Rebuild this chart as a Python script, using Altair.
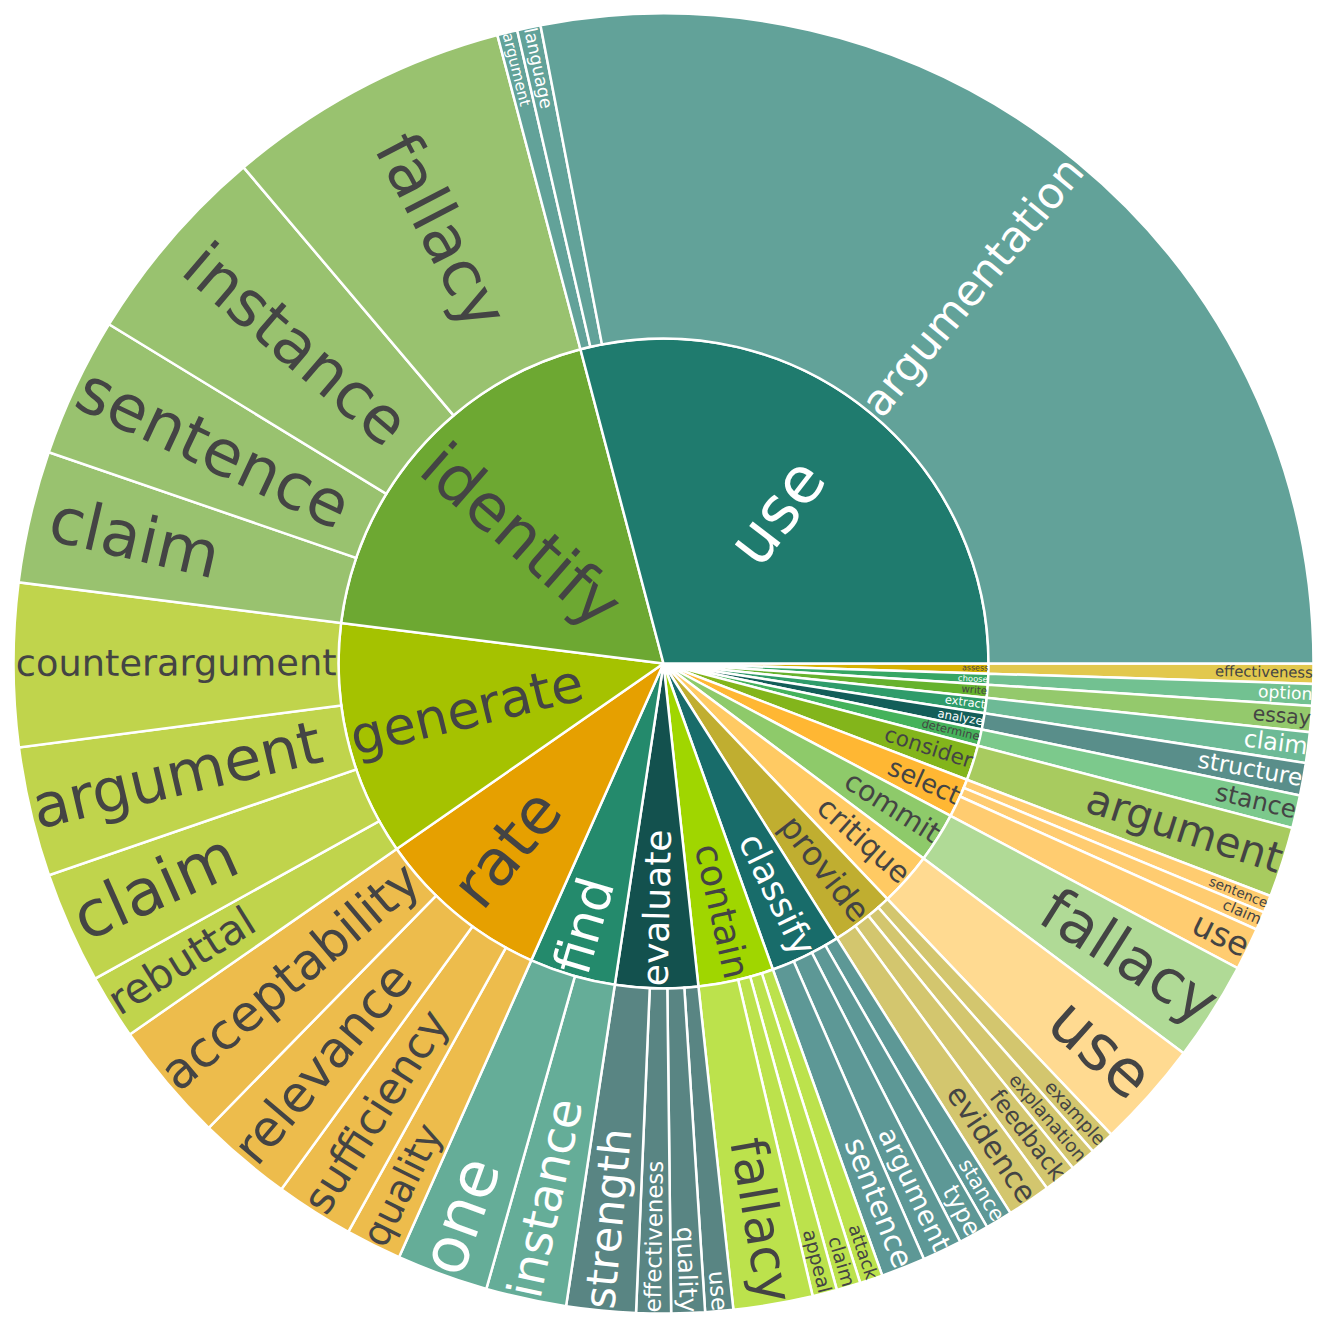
import math
import altair as alt
import pandas as pd

# ---------------- data ----------------
parents = ["use", "identify", "generate", "rate", "find", "evaluate", "contain",
           "classify", "provide", "critique", "commit", "select", "consider",
           "determine", "analyze", "extract", "write", "choose", "assess"]
parent_colors = ["#1F7B6E", "#6DA832", "#A5C200", "#E6A000", "#248A6C", "#13514E",
                 "#A0D600", "#186C6A", "#C0AE30", "#FFCA63", "#8ECA6A", "#FFB733",
                 "#83B51B", "#45B25B", "#135E59", "#2F9C6A", "#66B22D", "#36A663",
                 "#D6B102"]

leaf_parent = ["use", "use", "use",
               "identify", "identify", "identify", "identify",
               "generate", "generate", "generate", "generate",
               "rate", "rate", "rate", "rate",
               "find", "find",
               "evaluate", "evaluate", "evaluate", "evaluate",
               "contain", "contain", "contain", "contain",
               "classify", "classify", "classify", "classify",
               "provide", "provide", "provide", "provide",
               "critique", "commit",
               "select", "select", "select",
               "consider", "determine", "analyze", "extract", "write",
               "choose", "assess"]
leaf_label = ["argumentation", "language", "argument",
              "fallacy", "instance", "sentence", "claim",
              "counterargument", "argument", "claim", "rebuttal",
              "acceptability", "relevance", "sufficiency", "quality",
              "one", "instance",
              "strength", "effectiveness", "quality", "use",
              "fallacy", "appeal", "claim", "attack",
              "sentence", "argument", "type", "stance",
              "evidence", "feedback", "explanation", "example",
              "use", "fallacy",
              "use", "claim", "sentence",
              "argument", "stance", "structure", "claim", "essay",
              "option", "effectiveness"]
leaf_value = [100.96, 2.1, 1.8,
              25.45, 18.3, 12.5, 11.8,
              14.6, 11.6, 10.0, 5.8,
              10.8, 8.4, 7.0, 5.0,
              8.2, 7.2,
              6.2, 3.1, 3.0, 2.5,
              7.1, 2.2, 2.15, 2.05,
              3.95, 3.55, 2.7, 2.4,
              3.9, 2.9, 2.3, 2.2,
              9.6, 8.9,
              3.8, 1.65, 1.55,
              6.3, 2.95, 2.9, 2.75, 2.32,
              1.95, 1.8]

# ---------------- derived layout helpers ----------------
R_INNER = 325.0
R_OUTER = 650.0
FONT_CAP = 64.0
EM_H = 1.164
CHAR_W = dict(a=.613, b=.635, c=.550, d=.635, e=.615, f=.352, g=.635, h=.634,
              i=.278, j=.278, k=.579, l=.278, m=.974, n=.634, o=.612, p=.635,
              q=.635, r=.411, s=.521, t=.392, u=.634, v=.592, w=.818, x=.592,
              y=.592, z=.525)


def text_em(s):
    return sum(CHAR_W.get(ch, 0.6) for ch in s)


def fit_radial(label, half_angle, R, ring):
    r = max(0.0, R - 6.0)
    a = text_em(label) / EM_H
    q = a + 1.0 / (2.0 * math.tan(half_angle))
    s = r * min(1.0 / (math.sqrt(q * q + 0.5) + q),
                ring / (math.sqrt(a * a + ring / 2.0) + a))
    font = min(FONT_CAP, 2.0 * s / EM_H)
    b = s / r
    rc = (math.cos(b) - a * b) * R
    return font, rc


def brightness(hexcol):
    h = hexcol.lstrip("#")
    r, g, b = int(h[0:2], 16), int(h[2:4], 16), int(h[4:6], 16)
    return (r * 299 + g * 587 + b * 114) / 1000.0


color_of = dict(zip(parents, parent_colors))

# clockwise stacking: smallest parents first, smallest children first
leaf_rows = []
parent_rows = []
cum = 0.0
for p in reversed(parents):
    idx = [i for i, lp in enumerate(leaf_parent) if lp == p]
    p_start = cum
    for i in reversed(idx):
        leaf_rows.append(dict(parent=p, label=leaf_label[i], start=cum,
                              end=cum + leaf_value[i], value=leaf_value[i]))
        cum += leaf_value[i]
    parent_rows.append(dict(parent=p, label=p, start=p_start, end=cum,
                            value=cum - p_start))
total = cum


def finish(rows, R, ring):
    for row in rows:
        col = color_of[row["parent"]]
        row["color"] = col
        row["tcolor"] = "#444444" if brightness(col) >= 128 else "#ffffff"
        row["mid"] = (row["start"] + row["end"]) / 2.0
        half = math.pi * row["value"] / total
        fs, rc = fit_radial(row["label"], half, R, ring)
        row["fs"] = fs
        row["rc"] = rc
        theta = (90.0 + 360.0 * row["mid"] / total) % 360.0
        rot = theta - 90.0 if theta < 180.0 else theta - 270.0
        row["rot"] = rot % 360.0
    return pd.DataFrame(rows)


pdf = finish(parent_rows, R_INNER, 1.0)
ldf = finish(leaf_rows, R_OUTER, 1.0 - R_INNER / R_OUTER)

theta_scale = alt.Scale(domain=[0, total], range=[math.pi / 2, math.pi / 2 + 2 * math.pi])


def arcs(df, r0, r1, opacity):
    return alt.Chart(df).mark_arc(
        innerRadius=r0, outerRadius=r1, stroke="white", strokeWidth=2.5,
        fillOpacity=opacity
    ).encode(
        theta=alt.Theta("start:Q", scale=theta_scale),
        theta2="end:Q",
        color=alt.Color("color:N", scale=None),
    )


def labels(df):
    return alt.Chart(df).mark_text(
        font="DejaVu Sans", align="center", baseline="middle"
    ).encode(
        theta=alt.Theta("mid:Q", scale=theta_scale, stack=False),
        radius=alt.Radius("rc:Q", scale=None),
        text="label:N",
        angle=alt.Angle("rot:Q", scale=None),
        size=alt.Size("fs:Q", scale=None),
        color=alt.Color("tcolor:N", scale=None),
    )


chart = alt.layer(
    arcs(pdf, 0, R_INNER, 1.0),
    arcs(ldf, R_INNER, R_OUTER, 0.7),
    labels(pdf),
    labels(ldf),
).properties(
    width=1311, height=1311, padding=0,
    autosize=alt.AutoSizeParams(type="none"),
).configure_view(stroke=None)

chart.save("out.html", embed_options={"renderer": "svg", "actions": False})
